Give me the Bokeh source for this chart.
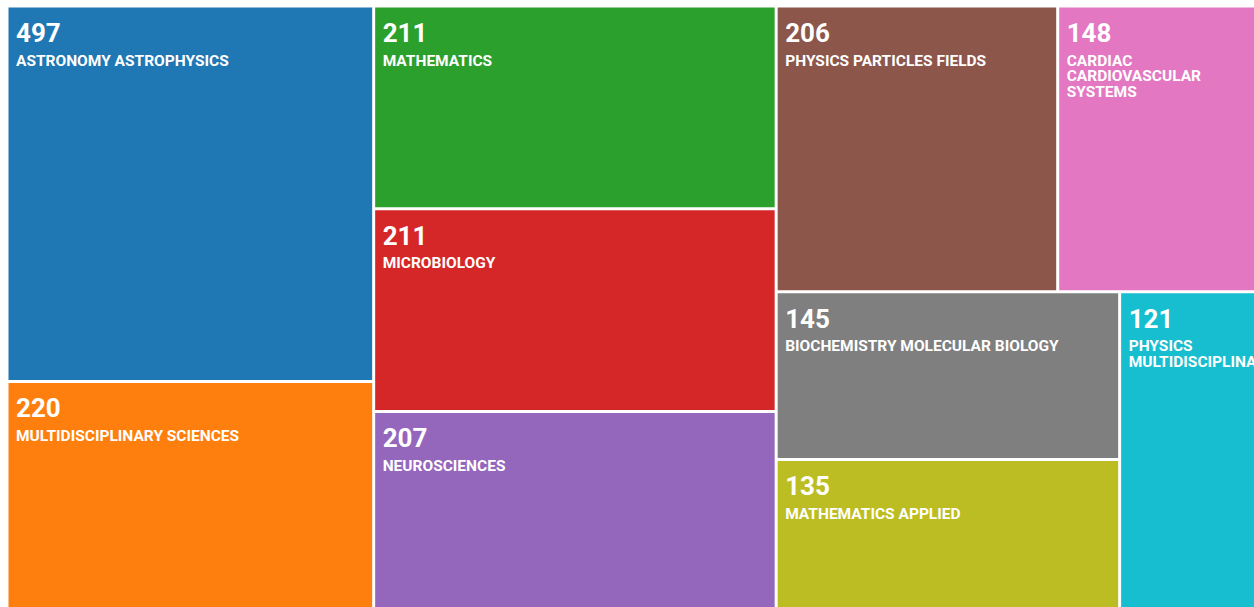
from bokeh.plotting import figure
from bokeh.models import Range1d, ColumnDataSource
from bokeh.core.properties import value
from bokeh.embed import file_html
from bokeh.resources import INLINE

# ---- data -------------------------------------------------------------
categories = [
    "ASTRONOMY ASTROPHYSICS",
    "MULTIDISCIPLINARY SCIENCES",
    "MATHEMATICS",
    "MICROBIOLOGY",
    "NEUROSCIENCES",
    "PHYSICS PARTICLES FIELDS",
    "CARDIAC CARDIOVASCULAR SYSTEMS",
    "BIOCHEMISTRY MOLECULAR BIOLOGY",
    "MATHEMATICS APPLIED",
    "PHYSICS MULTIDISCIPLINARY",
]
record_counts = [497, 220, 211, 211, 207, 206, 148, 145, 135, 121]
# relative tile areas as measured on the reference picture
tile_areas = [356, 217, 211, 211, 207, 208, 148, 149, 134, 114]
colors = ["#1f77b4", "#ff7f0e", "#2ca02c", "#d62728", "#9467bd",
          "#8c564b", "#e377c2", "#7f7f7f", "#bcbd22", "#17becf"]

# nesting of the treemap (h = side by side, v = stacked)
layout_tree = ("h", [("v", [0, 1]),
                     ("v", [2, 3, 4]),
                     ("v", [("h", [5, 6]),
                            ("h", [("v", [7, 8]), 9])])])

# ---- layout -----------------------------------------------------------
CANVAS_X, CANVAS_Y, CANVAS_W, CANVAS_H = 6.5, 5.5, 1251.0, 604.3
GAP = 3.0
PAD = 7.5


def weight(node):
    if isinstance(node, int):
        return tile_areas[node]
    return sum(weight(c) for c in node[1])


def place(node, x, y, w, h, out):
    if isinstance(node, int):
        out[node] = (x, y, w, h)
        return
    d, kids = node
    tot = weight(node)
    off = 0.0
    for c in kids:
        f = weight(c) / tot
        if d == "h":
            place(c, x + off * w, y, w * f, h, out)
        else:
            place(c, x, y + off * h, w, h * f, out)
        off += f


cells = {}
place(layout_tree, CANVAS_X, CANVAS_Y, CANVAS_W, CANVAS_H, cells)

left, right, top, bottom = [], [], [], []
for i in range(len(categories)):
    x, y, w, h = cells[i]
    left.append(x + GAP / 2)
    right.append(x + w - GAP / 2)
    top.append(y + GAP / 2)
    bottom.append(y + h - GAP / 2)

rects = ColumnDataSource(dict(left=left, right=right, top=top, bottom=bottom,
                              color=colors))


def wrap(label, width, char_w=9.6):
    words = label.split()
    lines, cur = [], ""
    for wd in words:
        cand = (cur + " " + wd).strip()
        if cur and len(cand) * char_w > width:
            lines.append(cur)
            cur = wd
        else:
            cur = cand
    if cur:
        lines.append(cur)
    return lines


num_x, num_y, num_t = [], [], []
lab_x, lab_y, lab_t = [], [], []
for i, (cat, cnt) in enumerate(zip(categories, record_counts)):
    num_x.append(left[i] + PAD)
    num_y.append(top[i] + 25)
    num_t.append(str(cnt))
    for j, line in enumerate(wrap(cat, right[i] - left[i] - 2 * PAD)):
        lab_x.append(left[i] + PAD)
        lab_y.append(top[i] + 53 + j * 15.8)
        lab_t.append(line)

# ---- figure -----------------------------------------------------------
p = figure(width=1254, height=607, output_backend="svg", toolbar_location=None,
           x_range=Range1d(0, 1254), y_range=Range1d(607, 0),
           min_border=0, outline_line_color=None, background_fill_color="white",
           border_fill_color="white")
p.axis.visible = False
p.grid.visible = False

p.quad(left="left", right="right", top="top", bottom="bottom", source=rects,
       fill_color="color", line_color=None)

p.text(x=num_x, y=num_y, text=num_t, text_color="white",
       text_font=value("Roboto"), text_font_style="bold",
       text_font_size="26px", text_baseline="alphabetic", text_align="left")
p.text(x=lab_x, y=lab_y, text=lab_t, text_color="white",
       text_font=value("Roboto"), text_font_style="bold",
       text_font_size="15.5px", text_baseline="alphabetic", text_align="left")

open("out.html", "w").write(file_html(p, INLINE))
